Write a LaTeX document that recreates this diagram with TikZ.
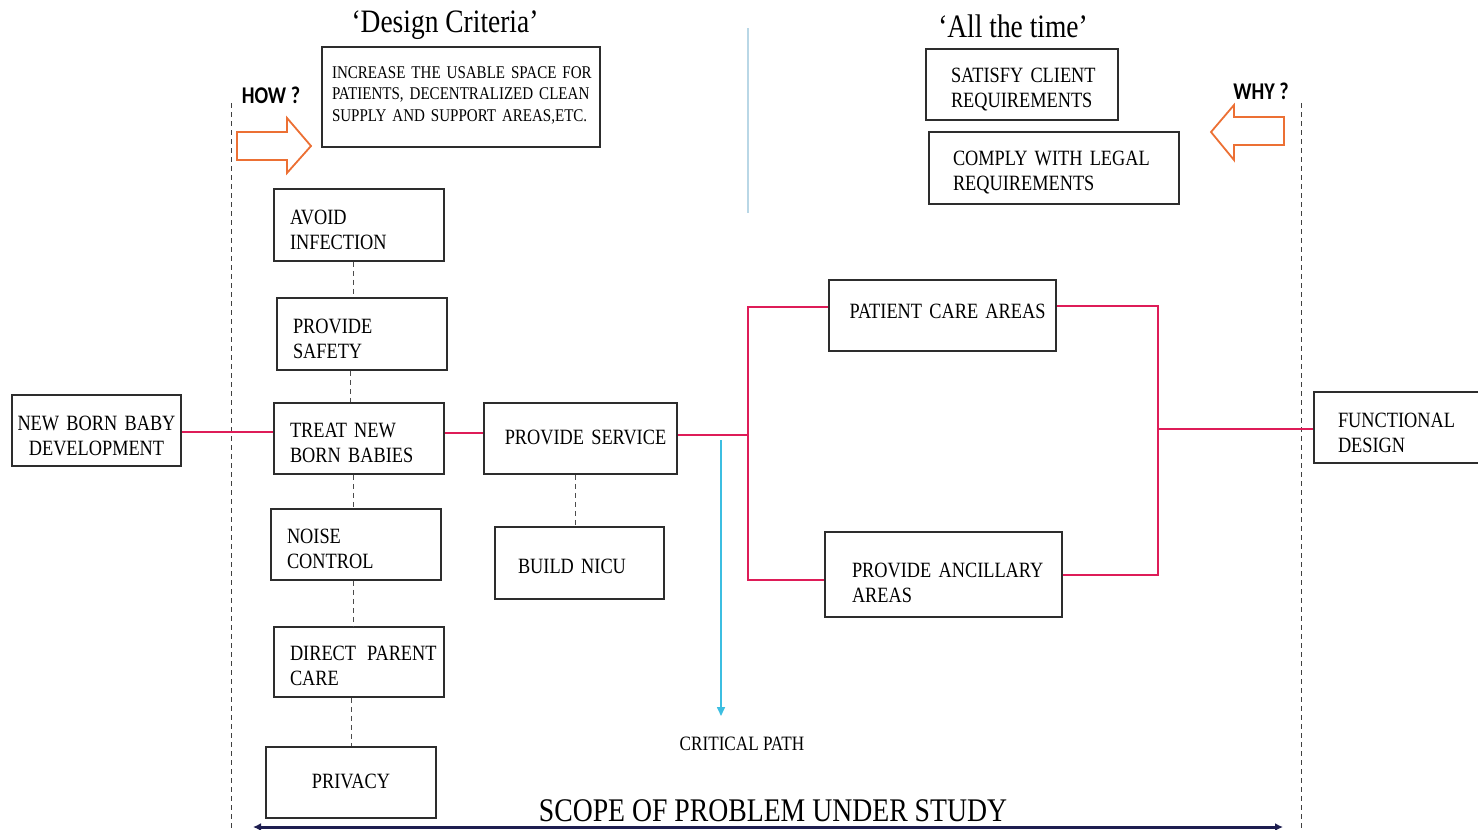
\documentclass[tikz,border=0pt]{standalone}
\usepackage{fontspec}
\setmainfont{Liberation Serif}[FakeStretch=0.84]
\newfontfamily\headfont{Carlito}[FakeStretch=0.84]
\usetikzlibrary{arrows.meta,calc}

\definecolor{linkred}{RGB}{222,28,88}
\definecolor{pathcyan}{RGB}{60,190,225}
\definecolor{hintorange}{RGB}{236,112,52}
\definecolor{scopenavy}{RGB}{30,30,80}
\definecolor{boxgray}{RGB}{45,45,45}
\definecolor{splitblue}{RGB}{185,215,230}

% one unbreakable line of box text
\newcommand\oneline[1]{\mbox{#1}}

\begin{document}
\begin{tikzpicture}[x=1pt,y=-1pt,
  stepbox/.style={draw=boxgray, line width=1.8pt, inner ysep=0pt, align=left,
    text height=30pt, font=\fontsize{21.8}{25.5}\selectfont},
  % width, height, left padding
  wide/.style n args={3}{minimum width=#1, minimum height=#2, inner xsep=#3,
    text width=#1-2*#3},
  link/.style={draw=linkred, line width=2.8pt, line join=miter},
  tie/.style={draw=black!70, line width=0.9pt, dash pattern=on 5pt off 4pt},
  guide/.style={draw=black!75, line width=1pt, dash pattern=on 5pt off 4pt},
  hint/.style={draw=hintorange, line width=1.8pt, line join=miter},
  title/.style={font=\fontsize{32.7}{36}\selectfont, inner sep=0pt},
  asks/.style={font=\headfont\bfseries\fontsize{24}{28}\selectfont, inner sep=0pt},
]
\useasboundingbox (0,0) rectangle (1478,830);

% headings
\node[title] (dctitle) at (445,25) {‘Design Criteria’};
\node[title] (attitle) at (1013,26) {‘All the time’};
\draw[splitblue, line width=1.3pt] (748,28) -- (748,213);

\node[asks] (how) at (271,95) {HOW ?};
\node[asks] (why) at (1261,91) {WHY ?};

% guide lines bounding the scope
\draw[guide] (231,103) -- (231,830);
\draw[guide] (1301,103) -- (1301,830);

% hollow direction arrows
\draw[hint] (237,132) -- (287,132) -- (287,118) -- (311,146) -- (287,173) -- (287,160) -- (237,160) -- cycle;
\draw[hint] (1284,117) -- (1234,117) -- (1234,105) -- (1211,132) -- (1234,160) -- (1234,145) -- (1284,145) -- cycle;

% criteria boxes
\node[stepbox, wide={278}{100}{10}, text depth=67.8pt, font=\fontsize{17.9}{21.5}\selectfont]
  (criteria) at (461,97) {\oneline{INCREASE THE USABLE SPACE FOR}\\\oneline{PATIENTS, DECENTRALIZED CLEAN}\\\oneline{SUPPLY AND SUPPORT AREAS,ETC.}};
\node[stepbox, wide={192}{71}{25}, text depth=34.6pt] (client) at (1022,84.5) {\oneline{SATISFY CLIENT}\\\oneline{REQUIREMENTS}};
\node[stepbox, wide={250}{72}{24}, text depth=35.6pt] (legal) at (1054,168) {\oneline{COMPLY WITH LEGAL}\\\oneline{REQUIREMENTS}};

% column of "how" steps
\node[stepbox, wide={170}{72}{16}, text depth=31.6pt] (avoid) at (359,225) {\oneline{AVOID}\\\oneline{INFECTION}};
\node[stepbox, wide={170}{72}{16}, text depth=31.6pt] (safety) at (362,334) {\oneline{PROVIDE}\\\oneline{SAFETY}};
\node[stepbox, wide={170}{71}{16}, text depth=32.6pt] (treat) at (359,438.5) {\oneline{TREAT NEW}\\\oneline{BORN BABIES}};
\node[stepbox, wide={170}{71}{16}, text depth=32.6pt] (noise) at (356,544.5) {\oneline{NOISE}\\\oneline{CONTROL}};
\node[stepbox, wide={170}{70}{16}, text depth=33.6pt] (parent) at (359,662) {\oneline{DIRECT\hspace{0.5em}PARENT}\\\oneline{CARE}};
\node[stepbox, wide={170}{71}{10}, text depth=18.6pt, align=center] (privacy) at (351,782.5) {\oneline{PRIVACY}};

% main chain
\node[stepbox, wide={169}{71}{4}, text depth=30.6pt, align=center] (baby) at (96.5,430.5) {\oneline{NEW BORN BABY}\\\oneline{DEVELOPMENT}};
\node[stepbox, wide={193}{71}{10}, text depth=18.6pt, align=center] (service) at (580.5,438.5) {\oneline{\hspace{10pt}PROVIDE SERVICE}};
\node[stepbox, wide={169}{72}{23}, text depth=9.6pt] (nicu) at (579.5,563) {\oneline{BUILD NICU}};
\node[stepbox, wide={227}{71}{10}, text depth=24.6pt, align=center] (patient) at (942.5,315.5) {\oneline{\hspace{10pt}PATIENT CARE AREAS}};
\node[stepbox, wide={237}{85}{27}, text depth=24.6pt] (ancillary) at (943.5,574.5) {\oneline{PROVIDE ANCILLARY}\\\oneline{AREAS}};
\node[stepbox, wide={176}{71}{24}, text depth=30.6pt] (functional) at (1402,427.5) {\oneline{FUNCTIONAL}\\\oneline{DESIGN}};

% dashed ties between stacked steps
\coordinate (t1) at (353,0);
\coordinate (t2) at (350,0);
\coordinate (t3) at (351,0);
\coordinate (t4) at (575,0);
\draw[tie] (t1 |- avoid.south) -- (t1 |- safety.north);
\draw[tie] (t2 |- safety.south) -- (t2 |- treat.north);
\draw[tie] (t1 |- treat.south) -- (t1 |- noise.north);
\draw[tie] (t1 |- noise.south) -- (t1 |- parent.north);
\draw[tie] (t3 |- parent.south) -- (t3 |- privacy.north);
\draw[tie] (t4 |- service.south) -- (t4 |- nicu.north);

% red links
\coordinate (jl) at (748,435);
\coordinate (jr) at (1158,429);
\draw[link] ([yshift=-1.5pt]baby.east) -- ([yshift=6.5pt]treat.west);
\draw[link] ([yshift=5.5pt]treat.east) -- ([yshift=5.5pt]service.west);
\draw[link] ([yshift=3.5pt]service.east) -- (jl);
\draw[link] ([yshift=8.5pt]patient.west) -| (jl) |- ([yshift=-5.5pt]ancillary.west);
\draw[link] ([yshift=9.5pt]patient.east) -| (jr) |- ([yshift=-0.5pt]ancillary.east);
\draw[link] (jr) -- ([yshift=-1.5pt]functional.west);

% critical path
\node[font=\fontsize{20.4}{24}\selectfont, inner sep=0pt] (critical) at (742,744) {CRITICAL PATH};
\coordinate (cpstart) at (721,440);
\coordinate (cpend) at (721,716);
\draw[pathcyan, line width=1.6pt, -{Triangle[length=9pt,width=8pt]}] (cpstart) -- (cpend);

% scope of the study
\node[font=\fontsize{33}{36}\selectfont, inner sep=0pt] (scope) at (773,811) {SCOPE OF PROBLEM UNDER STUDY};
\coordinate (scopeL) at (253,827);
\coordinate (scopeR) at (1283,827);
\draw[scopenavy, line width=3pt, {Latex[length=8pt,width=8pt]}-{Latex[length=8pt,width=8pt]}] (scopeL) -- (scopeR);
\end{tikzpicture}
\end{document}
